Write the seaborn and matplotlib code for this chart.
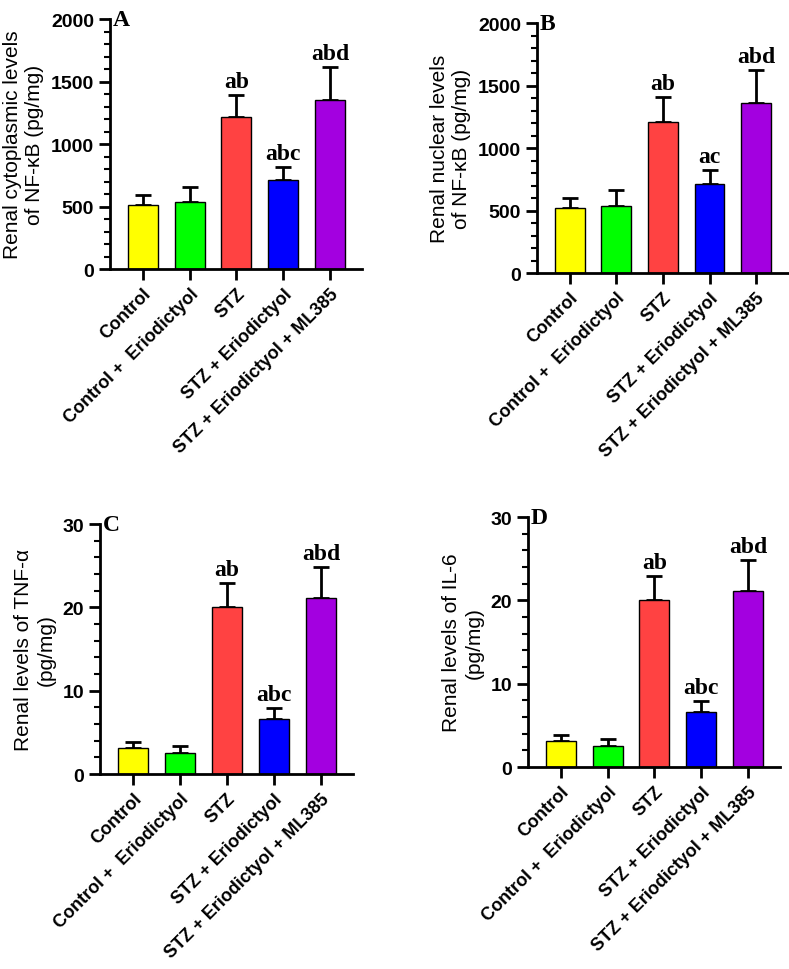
import numpy as np
import pandas as pd
import matplotlib
matplotlib.use("Agg")
import matplotlib.pyplot as plt
import seaborn as sns
from matplotlib.ticker import MultipleLocator

# Groups and colours
groups = ["Control", "Control +  Eriodictyol", "STZ", "STZ + Eriodictyol",
          "STZ + Eriodictyol + ML385"]
colors = ["#FFFF00", "#00FF00", "#FF4242", "#0000FF", "#A300E0"]

# Panel values (mean, upper error)
cyto_mean = [515, 535, 1215, 710, 1355]
cyto_err = [80, 120, 180, 110, 260]
nuc_mean = [517, 539, 1211, 712, 1357]
nuc_err = [80, 122, 194, 112, 267]
tnf_mean = [3.1, 2.5, 20.1, 6.6, 21.1]
tnf_err = [0.7, 0.9, 2.8, 1.3, 3.8]
il6_mean = [3.1, 2.5, 20.1, 6.6, 21.1]
il6_err = [0.7, 0.9, 2.8, 1.3, 3.8]

cyto_letters = ["", "", "ab", "abc", "abd"]
nuc_letters = ["", "", "ab", "ac", "abd"]
tnf_letters = ["", "", "ab", "abc", "abd"]
il6_letters = ["", "", "ab", "abc", "abd"]

sns.set_theme(style="ticks", rc={"text.color": "black", "axes.labelcolor": "black",
                                 "xtick.color": "black", "ytick.color": "black",
                                 "axes.edgecolor": "black"})
plt.rcParams['font.family'] = ['Liberation Sans', 'DejaVu Sans']

fig = plt.figure(figsize=(7.89, 9.70), dpi=100)

panels = [
    ([0.1394, 0.7216, 0.3194, 0.2577], cyto_mean, cyto_err, cyto_letters,
     "Renal cytoplasmic levels\nof NF-\u03baB (pg/mg)", 2000, 500, 100, "A"),
    ([0.6806, 0.7175, 0.3180, 0.2577], nuc_mean, nuc_err, nuc_letters,
     "Renal nuclear levels\nof NF-\u03baB (pg/mg)", 2000, 500, 100, "B"),
    ([0.1267, 0.2010, 0.3207, 0.2577], tnf_mean, tnf_err, tnf_letters,
     "Renal levels of TNF-\u03b1\n(pg/mg)", 30, 10, 2, "C"),
    ([0.6692, 0.2082, 0.3194, 0.2577], il6_mean, il6_err, il6_letters,
     "Renal levels of IL-6\n(pg/mg)", 30, 10, 2, "D"),
]

for rect, means, errs, letters, ylabel, ymax, major, minor, tag in panels:
    ax = fig.add_axes(rect)
    df = pd.DataFrame({"group": groups, "value": means})
    sns.barplot(data=df, x="group", y="value", hue="group", palette=colors,
                saturation=1, width=0.64, edgecolor="black", linewidth=1,
                legend=False, ax=ax, zorder=2)
    ax.errorbar(np.arange(len(groups)), means, yerr=[np.zeros(len(errs)), errs],
                fmt="none", ecolor="black", elinewidth=2, capsize=6,
                capthick=2, zorder=1)
    for i, (m, e, t) in enumerate(zip(means, errs, letters)):
        if t:
            ax.text(i, m + e + ymax * 0.012, t, ha="center", va="bottom",
                    fontsize=17, fontweight="bold", family="Liberation Serif")
    ax.set_xlim(-0.7, 4.68)
    ax.set_ylim(0, ymax)
    ax.yaxis.set_major_locator(MultipleLocator(major))
    ax.yaxis.set_minor_locator(MultipleLocator(minor))
    sns.despine(ax=ax)
    for s in ["left", "bottom"]:
        ax.spines[s].set_linewidth(2)
    ax.tick_params(axis="both", which="major", length=8, width=2, labelsize=14)
    ax.tick_params(axis="x", labelsize=13)
    ax.tick_params(axis="y", which="minor", length=4, width=1.5)
    ax.set_xlabel("")
    ax.set_ylabel(ylabel, fontsize=15, labelpad=5, linespacing=1.2)
    ax.set_xticks(range(len(groups)))
    ax.set_xticklabels(groups, rotation=45, ha="right", rotation_mode="anchor",
                       fontweight="bold")
    for lab in ax.get_yticklabels():
        lab.set_fontweight("bold")
    ax.text(0.01, 1.0, tag, transform=ax.transAxes, ha="left", va="center",
            fontsize=17, fontweight="bold", family="Liberation Serif")

fig.savefig("out.png", dpi=100)
